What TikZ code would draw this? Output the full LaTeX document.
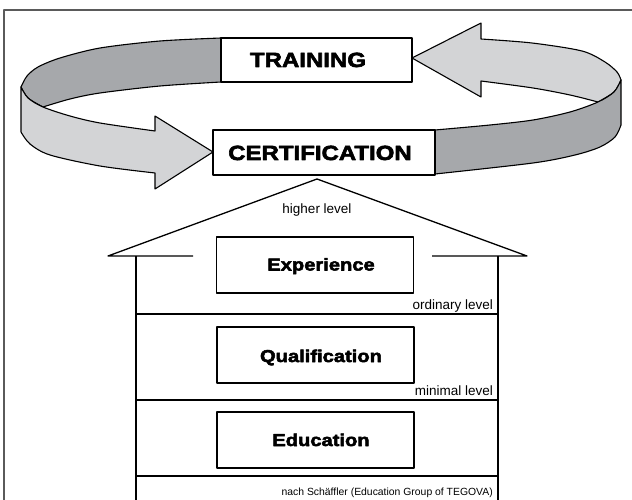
\documentclass[tikz,border=0pt]{standalone}
\usepackage{fontspec}
\setmainfont{Liberation Sans}
\newfontfamily\heavyfont{Liberation Sans Bold}[FakeStretch=1.17,FakeBold=3]

\definecolor{bandDark}{RGB}{166,168,171}
\definecolor{bandLight}{RGB}{211,212,214}
\definecolor{frameGrey}{RGB}{90,90,90}

\begin{document}
\begin{tikzpicture}[x=1pt, y=-1pt, line join=round,
    band/.style={draw=black, line width=1.1pt},
    tagbox/.style={draw=black, fill=white, line width=1.3pt, inner sep=0pt},
    levelbox/.style={draw=black, fill=white, line width=1.3pt, inner sep=0pt,
                     minimum width=197pt, minimum height=56pt},
    bigword/.style={font=\heavyfont\fontsize{20.5}{24}\selectfont, anchor=base, inner sep=0pt},
    boxword/.style={font=\heavyfont\fontsize{17.2}{20}\selectfont, anchor=base, inner sep=0pt},
    levelnote/.style={font=\fontsize{13.5}{16}\selectfont, inner sep=0pt},
    housewall/.style={draw=black, line width=1.3pt}]

    \useasboundingbox (0,0) rectangle (632,500);

    % Frame (open to the right and bottom)
    \draw[frameGrey, line width=1.4pt] (4,500) -- (4,10) -- (632,10);

    % Back of the ring, left part (inside face, dark)
    \filldraw[band, fill=bandDark]
        plot[smooth] coordinates {(21,87) (27,76) (38,67) (60,58) (100,48) (160,41) (221,38)}
        -- (221,82)
        -- plot[smooth] coordinates {(221,82) (160,86) (100,93) (70,99) (43,107)}
        -- plot[smooth] coordinates {(43,107) (28,98) (21,87)} -- cycle;

    % Back of the ring, right part, ending in the arrow head towards TRAINING
    \filldraw[band, fill=bandLight]
        (481,39)
        -- plot[smooth] coordinates {(481,39) (532,43) (582,51) (605,62) (617,72) (621,80)}
        -- plot[smooth] coordinates {(621,80) (614,92) (598,102)}
        -- plot[smooth] coordinates {(598,102) (570,95) (533,88) (481,81)}
        -- (481,97) -- (412,58) -- (481,23) -- cycle;

    % Front of the ring, right part (dark)
    \filldraw[band, fill=bandDark]
        plot[smooth] coordinates {(435,130) (490,125) (533,120) (570,112) (598,102) (614,92) (621,80)}
        -- (621,125)
        -- plot[smooth] coordinates {(621,125) (615,137) (600,147) (575,155) (533,163) (435,174)}
        -- cycle;

    % Front of the ring, left part, ending in the arrow head towards CERTIFICATION
    \filldraw[band, fill=bandLight]
        plot[smooth] coordinates {(21,87) (28,98) (43,107) (70,116) (100,123) (155,131)}
        -- (155,116) -- (213,152) -- (155,189) -- (155,173)
        -- plot[smooth] coordinates {(155,173) (100,166) (50,155) (30,144) (21,132)}
        -- cycle;

    % The two boxes on the ring
    \node[tagbox, minimum width=191pt, minimum height=44pt] (training) at (316.5,60) {};
    \node[bigword] (trainingText) at (308,67) {TRAINING};

    \node[tagbox, minimum width=222pt, minimum height=45pt] (certification) at (324,152.5) {};
    \node[bigword] (certificationText) at (320,160) {CERTIFICATION};

    % The house: roof, eaves and walls
    \coordinate (apex) at (317,179);
    \coordinate (roofL) at (108,256);
    \coordinate (roofR) at (527,256);
    \coordinate (eaveL) at (193,256);
    \coordinate (eaveR) at (432,256);
    \coordinate (wallL) at (136,256);
    \coordinate (wallR) at (498,256);
    \draw[housewall] (eaveL) -- (roofL) -- (apex) -- (roofR) -- (eaveR);
    \draw[housewall] (wallL) -- (136,500);
    \draw[housewall] (wallR) -- (498,500);

    % Floors
    \foreach \y in {314,400,476}
        \draw[housewall] (136,\y) -- (498,\y);

    % Storeys
    \node[levelbox] (experience) at (315,265) {};
    \node[boxword] (experienceText) at (321,270.5) {Experience};

    \node[levelbox] (qualification) at (315.5,355) {};
    \node[boxword] (qualificationText) at (321,362) {Qualification};

    \node[levelbox] (education) at (315.5,440) {};
    \node[boxword] (educationText) at (321,446) {Education};

    % Level notes
    \node[levelnote, anchor=base] (higher) at (317,213) {higher level};
    \node[levelnote, anchor=base east] (ordinary) at (493,309) {ordinary level};
    \node[levelnote, anchor=base east] (minimal) at (493,395) {minimal level};
    \node[font=\fontsize{10.4}{12}\selectfont, inner sep=0pt, anchor=base east] (source)
        at (493,495) {nach Schäffler (Education Group of TEGOVA)};

\end{tikzpicture}
\end{document}
